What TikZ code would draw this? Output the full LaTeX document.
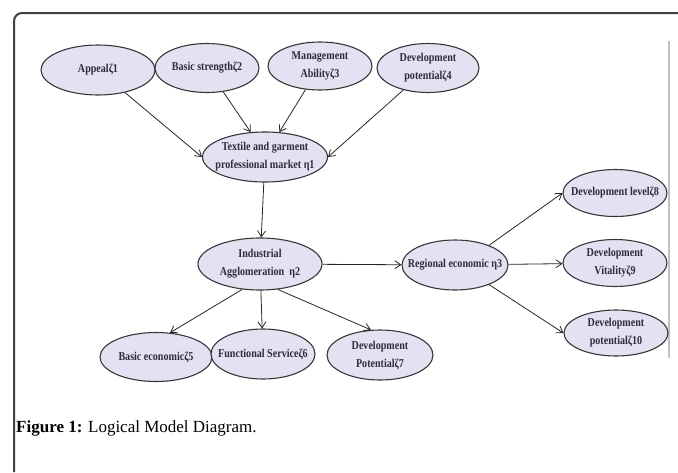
\documentclass[tikz,border=0pt]{standalone}
\usepackage{fontspec}
\setmainfont{Liberation Serif}
\newfontfamily\tmsc{Liberation Serif}[FakeStretch=0.84]
\newfontfamily\tms{Liberation Serif}
\usetikzlibrary{shapes.geometric,arrows.meta}
\definecolor{ellfill}{RGB}{230,225,242}
\definecolor{ellline}{RGB}{55,55,55}
\definecolor{txt}{RGB}{45,45,55}
\tikzset{
  lat/.style={ellipse, draw=ellline, line width=1.1pt, fill=ellfill, inner sep=0pt},
  lattext/.style={inner sep=0pt, text=txt, font=\tmsc\fontsize{12}{18}\selectfont\bfseries, align=center},
  conn/.style={draw=black!85, line width=0.8pt, -{Straight Barb[length=6pt,width=8pt]}},
}
\newcommand\latnode[5]{%
  \node[lat, minimum width=#3pt, minimum height=#4pt] (#1) at (#2) {};
  \node[lattext] (#1t) at (#1) {#5};}
\begin{document}
\begin{tikzpicture}[x=1pt,y=-1pt]
\useasboundingbox (0,0) rectangle (678,472);
% frame
\draw[line width=2pt, draw=black!75, rounded corners=8pt] (14,472) -- (14,13) -- (679,13);
\draw[line width=1.2pt, draw=black!25] (669,41) -- (669,358);
% nodes
\latnode{z1}{98,70}{114}{50}{Appealζ1}
\latnode{z2}{207,68}{104}{49}{Basic strengthζ2}
\latnode{z3}{320,66}{104}{48}{Management\\Abilityζ3}
\latnode{z4}{428,68}{102}{49}{Development\\potentialζ4}
\latnode{e1}{265,157}{125}{50}{Textile and garment\\professional market η1}
\latnode{e2}{260,264}{124}{52}{Industrial\\Agglomeration\ \ η2}
\latnode{e3}{455,265}{106}{50}{Regional economic η3}
\latnode{z8}{615,193}{104}{47}{Development levelζ8}
\latnode{z9}{615,263}{104}{47}{Development\\Vitalityζ9}
\latnode{z10}{616,333}{104}{46}{Development\\potentialζ10}
\latnode{z5}{156,357}{112}{49}{Basic economicζ5}
\latnode{z6}{263,354}{104}{50}{Functional Serviceζ6}
\latnode{z7}{380,355}{106}{50}{Development\\Potentialζ7}
% connectors
\draw[conn] (z1) -- (e1.west);
\draw[conn] (z2) -- (e1.120);
\draw[conn] (z3) -- (e1.60);
\draw[conn] (z4) -- (e1.east);
\draw[conn] (e1) -- (e2);
\draw[conn] (e2) -- (e3);
\draw[conn] (e2.-125) -- (z5.60);
\draw[conn] (e2) -- (z6);
\draw[conn] (e2.-55) -- (z7.110);
\draw[conn] (e3.30) -- (z8.west);
\draw[conn] (e3) -- (z9);
\draw[conn] (e3.-30) -- (z10.west);
% caption
\node[anchor=base west, inner sep=0pt, font=\tms\fontsize{17}{20}\selectfont] (cap) at (16,432)
  {\textbf{Figure 1:} Logical Model Diagram.};
\end{tikzpicture}
\end{document}
